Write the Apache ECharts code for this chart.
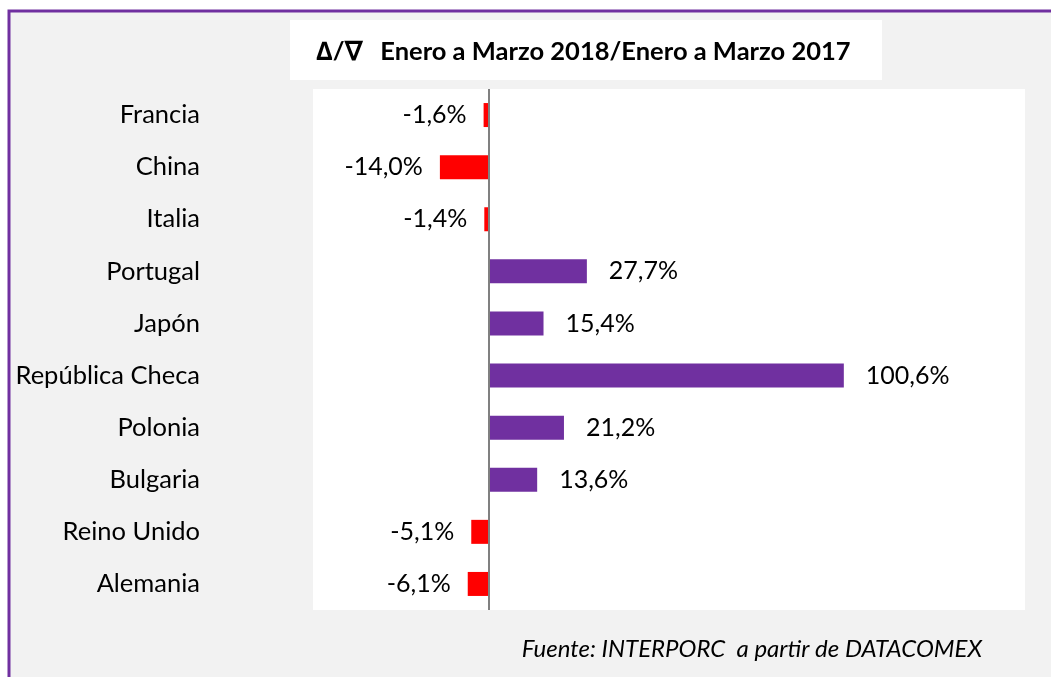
<!DOCTYPE html>
<html>
<head>
<meta charset="utf-8">
<script src="https://cdn.jsdelivr.net/npm/echarts@6/dist/echarts.min.js"></script>
<style>
  html, body { margin: 0; padding: 0; background: #fff; }
  #chart { width: 1051px; height: 677px; }
</style>
</head>
<body>
<div id="chart"></div>
<script>
// countries, top to bottom
const paises = ['Francia', 'China', 'Italia', 'Portugal', 'Japón', 'República Checa', 'Polonia', 'Bulgaria', 'Reino Unido', 'Alemania']
// variation Jan-Mar 2018 vs Jan-Mar 2017, %
const variacion = [-1.6, -14.0, -1.4, 27.7, 15.4, 100.6, 21.2, 13.6, -5.1, -6.1]

const titulo = '∆/∇   Enero a Marzo 2018/Enero a Marzo 2017'
const fuente = 'Fuente: INTERPORC  a partir de DATACOMEX'

const rojo = '#ff0000'
const morado = '#7030a0'
const fontFam = 'Lato, "Open Sans", sans-serif'

const fmt = v => v.toFixed(1).replace('.', ',') + '%'

const negativos = variacion.map(v => (v < 0 ? v : '-'))
const positivos = variacion.map(v => (v >= 0 ? v : '-'))

const chart = echarts.init(document.getElementById('chart'), null, { renderer: 'canvas' })

chart.setOption({
  backgroundColor: '#fff',
  animation: false,
  graphic: [
    {
      type: 'rect',
      z: -10,
      shape: { x: 9, y: 11, width: 1100, height: 720 },
      style: { fill: '#f2f2f2', stroke: morado, lineWidth: 3 },
    },
    {
      type: 'rect',
      z: -5,
      shape: { x: 290, y: 20, width: 592, height: 60 },
      style: { fill: '#fff' },
    },
    {
      type: 'text',
      x: 316,
      y: 52,
      style: {
        text: titulo,
        fill: '#000',
        font: 'bold 25.5px ' + fontFam,
        textAlign: 'left',
        textVerticalAlign: 'middle',
      },
    },
    {
      type: 'text',
      x: 982,
      y: 649,
      style: {
        text: fuente,
        fill: '#000',
        font: 'italic 24px ' + fontFam,
        textAlign: 'right',
        textVerticalAlign: 'middle',
      },
    },
  ],
  grid: {
    left: 313,
    top: 89,
    width: 712,
    height: 521,
    show: true,
    backgroundColor: '#fff',
    borderWidth: 0,
  },
  xAxis: {
    type: 'value',
    min: -50,
    max: 152,
    show: false,
    splitLine: { show: false },
  },
  yAxis: {
    type: 'category',
    data: paises,
    inverse: true,
    axisLine: { show: false },
    axisTick: { show: false },
    axisLabel: {
      margin: 113,
      color: '#000',
      fontSize: 25.5,
      fontFamily: fontFam,
    },
  },
  series: [
    {
      name: 'negativo',
      type: 'bar',
      stack: 'v',
      data: negativos,
      barWidth: 24,
      itemStyle: { color: rojo },
      label: {
        show: true,
        position: 'left',
        distance: 17,
        color: '#000',
        fontSize: 25,
        fontFamily: fontFam,
        formatter: p => fmt(p.value),
      },
      markLine: {
        silent: true,
        symbol: 'none',
        label: { show: false },
        lineStyle: { color: '#808080', width: 2, type: 'solid' },
        data: [{ xAxis: 0 }],
      },
    },
    {
      name: 'positivo',
      type: 'bar',
      stack: 'v',
      data: positivos,
      barWidth: 22,
      itemStyle: { color: morado },
      label: {
        show: true,
        position: 'right',
        distance: 22,
        color: '#000',
        fontSize: 25,
        fontFamily: fontFam,
        formatter: p => fmt(p.value),
      },
    },
  ],
})
</script>
</body>
</html>
